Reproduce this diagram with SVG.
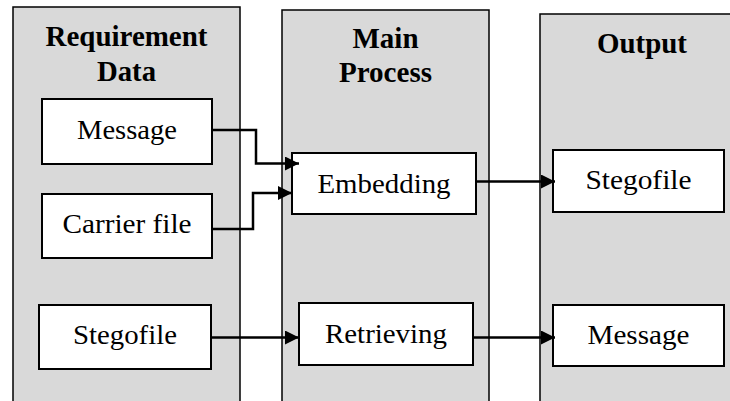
<svg xmlns="http://www.w3.org/2000/svg" width="730" height="401" viewBox="0 0 730 401">
<defs>
<style>
.col{fill:#d9d9d9;stroke:#000;stroke-width:1.5}
.box{fill:#fff;stroke:#000;stroke-width:2}
.hd{font-family:'Liberation Serif','Times New Roman',serif;font-weight:bold;font-size:30px;text-anchor:middle;fill:#000}
.tx{font-family:'Liberation Serif','Times New Roman',serif;font-size:28px;text-anchor:middle;fill:#000}
.ln{fill:none;stroke:#000;stroke-width:2.5}
</style>
<marker id="ah" viewBox="0 0 10 10" refX="10" refY="5" markerWidth="6.4" markerHeight="5.6" markerUnits="strokeWidth" orient="auto">
<path d="M0,0 L10,5 L0,10 z" fill="#000"/>
</marker>
</defs>
<g id="col-requirement">
<rect class="col" x="13" y="7" width="227" height="400"/>
<text class="hd" x="126.5" y="46" textLength="162" lengthAdjust="spacingAndGlyphs">Requirement</text>
<text class="hd" x="126.5" y="81" textLength="59" lengthAdjust="spacingAndGlyphs">Data</text>
</g>
<g id="col-main">
<rect class="col" x="282" y="10" width="207" height="400"/>
<text class="hd" x="385.5" y="48" textLength="66" lengthAdjust="spacingAndGlyphs">Main</text>
<text class="hd" x="385.5" y="82" textLength="93" lengthAdjust="spacingAndGlyphs">Process</text>
</g>
<g id="col-output">
<rect class="col" x="540" y="14" width="200" height="400"/>
<text class="hd" x="642" y="53" textLength="90" lengthAdjust="spacingAndGlyphs">Output</text>
</g>
<g id="n-message-in">
<rect class="box" x="42" y="99" width="170" height="65"/>
<text class="tx" x="127" y="139" textLength="100" lengthAdjust="spacingAndGlyphs">Message</text>
</g>
<g id="n-carrier">
<rect class="box" x="42" y="194" width="170" height="64"/>
<text class="tx" x="127" y="233" textLength="129" lengthAdjust="spacingAndGlyphs">Carrier file</text>
</g>
<g id="n-stego-in">
<rect class="box" x="39" y="305" width="172" height="64"/>
<text class="tx" x="125" y="344" textLength="104" lengthAdjust="spacingAndGlyphs">Stegofile</text>
</g>
<g id="n-embedding">
<rect class="box" x="292" y="153" width="184" height="61"/>
<text class="tx" x="384" y="192.5" textLength="133" lengthAdjust="spacingAndGlyphs">Embedding</text>
</g>
<g id="n-retrieving">
<rect class="box" x="299" y="303" width="174" height="62"/>
<text class="tx" x="386" y="342.5" textLength="122" lengthAdjust="spacingAndGlyphs">Retrieving</text>
</g>
<g id="n-stego-out">
<rect class="box" x="553" y="150" width="171" height="62"/>
<text class="tx" x="638.5" y="189" textLength="106" lengthAdjust="spacingAndGlyphs">Stegofile</text>
</g>
<g id="n-message-out">
<rect class="box" x="553" y="305" width="171" height="61"/>
<text class="tx" x="638.5" y="343.5" textLength="102" lengthAdjust="spacingAndGlyphs">Message</text>
</g>
<g id="connectors">
<path class="ln" d="M212,130 H256 V163.5 H299" marker-end="url(#ah)"/>
<path class="ln" d="M212,229 H253 V193 H292" marker-end="url(#ah)"/>
<path class="ln" d="M211,337.5 H299" marker-end="url(#ah)"/>
<path class="ln" d="M476,181.5 H555" marker-end="url(#ah)"/>
<path class="ln" d="M473,337.5 H555" marker-end="url(#ah)"/>
</g>
</svg>
